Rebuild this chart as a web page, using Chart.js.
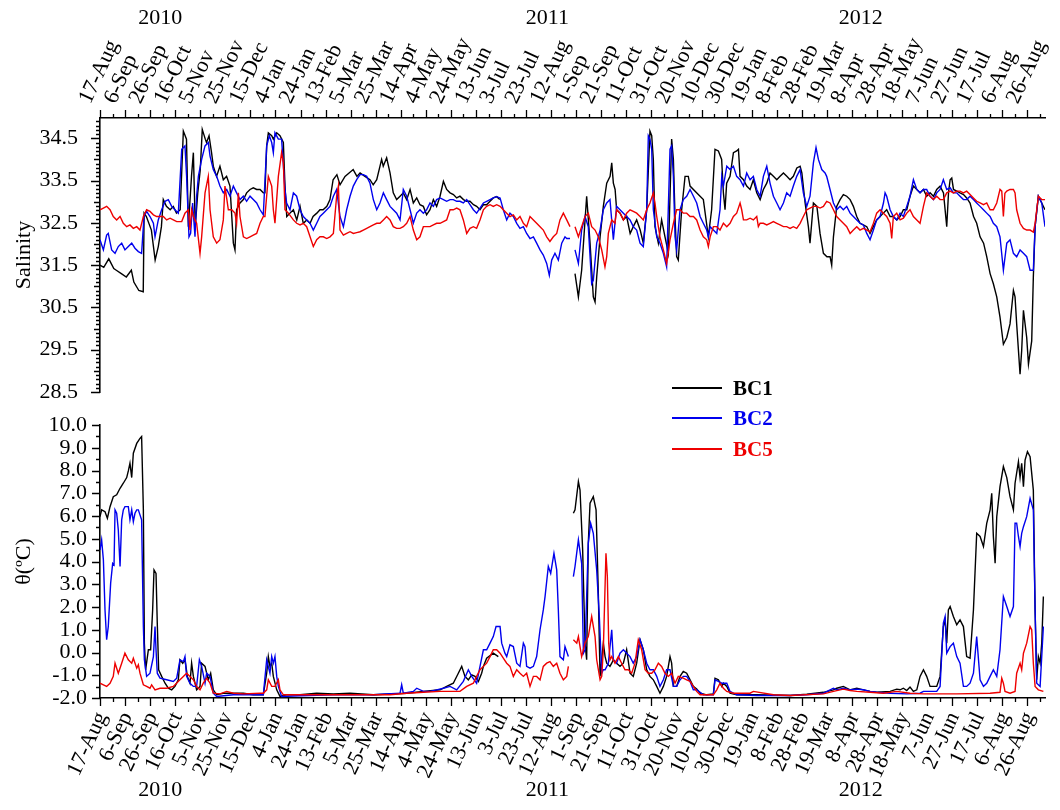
<!DOCTYPE html>
<html>
<head>
<meta charset="utf-8">
<script src="https://cdn.jsdelivr.net/npm/chart.js@4.4.1/dist/chart.umd.min.js"></script>
<style>
  body { margin: 0; background: #fff; }
  #wrap { position: relative; width: 1060px; height: 810px; font-family: "Liberation Serif", "Times New Roman", serif; }
  #salBox { position: absolute; left: 0; top: 0; width: 1060px; height: 400px; }
  #tempBox { position: absolute; left: 0; top: 400px; width: 1060px; height: 410px; }
  .key { position: absolute; left: 672px; width: 120px; height: 24px; }
  .key i { position: absolute; left: 0; top: 11px; width: 50px; height: 1.5px; }
  .key b { position: absolute; left: 61px; top: 0; font: bold 21px/24px "Liberation Serif", "Times New Roman", serif; }
</style>
</head>
<body>
<div id="wrap">
  <div id="salBox"><canvas id="salChart" width="1060" height="400"></canvas></div>
  <div id="tempBox"><canvas id="tempChart" width="1060" height="410"></canvas></div>
  <div class="key" style="top:376px"><i style="background:#000"></i><b style="color:#000">BC1</b></div>
  <div class="key" style="top:406px"><i style="background:#0000ee"></i><b style="color:#0000ee">BC2</b></div>
  <div class="key" style="top:437px"><i style="background:#ee0000"></i><b style="color:#ee0000">BC5</b></div>
</div>
<script>
// x values are days counted from 17-Aug-2010
const tickLabels = ['17-Aug','6-Sep','26-Sep','16-Oct','5-Nov','25-Nov','15-Dec','4-Jan','24-Jan','13-Feb',
  '5-Mar','25-Mar','14-Apr','4-May','24-May','13-Jun','3-Jul','23-Jul','12-Aug','1-Sep','21-Sep','11-Oct',
  '31-Oct','20-Nov','10-Dec','30-Dec','19-Jan','8-Feb','28-Feb','19-Mar','8-Apr','28-Apr','18-May','7-Jun',
  '27-Jun','17-Jul','6-Aug','26-Aug'];
const yearLabels = ['2010', '2011', '2012'];
const yearDays = [48, 357, 607];
const salTicks = [28.5, 29.5, 30.5, 31.5, 32.5, 33.5, 34.5];
const tempTicks = [-2, -1, 0, 1, 2, 3, 4, 5, 6, 7, 8, 9, 10];

const salBC1 = [[0,31.5],[3,31.45],[7,31.65],[11,31.42],[13,31.38],[17,31.3],[21,31.22],[25,31.38],[27,31.1],[31,30.9],[34.5,30.87],[35.2,32.73],[37,32.65],[41,32.33],[44,31.62],[46.5,31.94],[49,32.41],[50.5,33.05],[53,32.89],[56,32.81],[58.5,32.89],[61,32.73],[64,32.81],[66.5,34.67],[69,34.48],[70.5,32.41],[73,33.6],[74.5,34.16],[76,32.41],[78,33.21],[80,33.76],[81.6,34.71],[84,34.48],[85,34.4],[87,34.56],[89,34.16],[90.4,33.84],[93,33.6],[95.7,33.84],[98.4,33.52],[101,33.6],[103.7,33.37],[106.4,32.02],[107.7,31.86],[109,32.81],[111.7,32.97],[114.4,33.05],[117,33.21],[119.7,33.29],[122.3,33.33],[125,33.29],[127.7,33.29],[130.3,33.21],[131.6,33.21],[133,34.32],[134.3,34.63],[137,34.56],[138.3,34.48],[141,34.63],[143.6,34.56],[146.3,34.4],[147.6,33.37],[149,32.65],[151.6,32.73],[154.3,32.81],[157,32.57],[159.6,32.89],[162.2,32.49],[165,32.57],[167.6,32.49],[170,32.65],[173,32.73],[175.5,32.81],[178,32.81],[181,32.89],[183.5,33.05],[186,33.52],[189,33.64],[191.5,33.4],[195.5,33.6],[202,33.76],[205,33.6],[207.5,33.68],[211.4,33.6],[215.4,33.52],[218,33.4],[220.8,33.52],[224.7,34.0],[226,33.84],[228.7,34.04],[231.4,33.68],[234,33.21],[236.7,33.05],[239.4,33.13],[242,33.21],[244.7,33.05],[247.4,33.29],[250,32.97],[252.7,33.09],[255.3,32.93],[258,32.89],[260.6,32.69],[263.3,32.81],[266,33.05],[268.6,32.89],[271.3,33.13],[274,33.48],[276.6,33.29],[279.3,33.21],[282,33.17],[284.6,33.09],[287.2,33.13],[290,33.05],[292.6,33.01],[295.2,33.01],[298,32.93],[300.5,32.89],[303.2,32.81],[306,32.93],[308.5,32.93],[311.2,33.01],[313.8,33.09],[316.5,33.12],[319,33.05],[349,null],
  [379,31.3],[381.7,30.75],[384.3,31.38],[388.3,33.13],[391,32.02],[393.6,30.75],[395,30.63],[396.3,31.22],[399,32.17],[401.6,32.89],[404.3,33.44],[407,33.6],[408.3,33.92],[409.6,33.44],[411,33.29],[412.2,32.81],[415,32.73],[417.6,32.57],[420.2,32.65],[423,32.25],[425.5,32.41],[428.2,32.57],[431,32.33],[433.5,32.02],[436.2,32.81],[438.8,34.67],[440.2,34.56],[441.5,34.0],[442.8,32.41],[445.5,32.02],[448.1,32.57],[450.8,32.17],[453.5,31.78],[456.1,34.48],[457.5,34.0],[458.8,32.65],[460.1,31.7],[461.4,31.62],[464.1,32.81],[466.8,33.6],[469.4,33.6],
  [470.8,33.37],[476,33.21],[481.4,33.05],[485.4,32.17],[488,32.81],[490.7,34.24],[493.4,34.2],[496,34.0],[497.4,33.21],[498.7,32.81],[500,33.44],[502.7,33.6],[505.4,34.16],[508,34.2],[509.4,34.24],[510.7,33.6],[513.4,33.52],[516,33.37],[518.7,33.29],[521.3,33.52],[524,33.21],[526.7,33.05],[529.3,33.29],[532,33.44],[534.6,33.68],[537.3,33.6],[540,33.52],[542.6,33.6],[545.3,33.68],[548,33.6],[550.6,33.52],[553.2,33.6],[556,33.8],[558.6,33.84],[560,33.68],[562.6,32.97],[565.2,32.41],[566.5,32.02],[569.2,32.97],[572,32.89],[574.5,32.25],[577.2,31.78],[580,31.7],[582.5,31.7],[583.8,31.5],[585.2,32.17],[587.8,32.89],[590.5,33.05],[593.1,33.17],[595.8,33.13],[598.5,33.05],[601.1,32.89],[603.8,32.65],[606.4,32.49],[609,32.45],[611.8,32.41],[614.4,32.25],[617,32.41],[619.7,32.57],[622.4,32.65],[625,32.73],[627.7,32.81],[630.4,32.65],[633,32.65],[635.7,32.57],[638.4,32.65],[641,32.81],[643.7,32.81],[646.3,33.13],[649,33.37],[651.7,33.29],[654.3,33.21],[657,33.29],[659.6,33.13],[662.3,33.21],[665,33.13],[667.6,33.29],[670.3,33.37],[673,33.21],[675.6,32.41],[677,33.21],[678.3,33.52],[679.6,33.56],[681,33.29],[683.6,33.25],[686.2,33.21],[689,33.17],[691.5,33.09],[694.2,32.97],[697,32.65],[699.5,32.49],[702.2,32.17],[705,32.02],[707.5,31.7],[710.2,31.3],[712.8,31.06],[715.5,30.75],[718.1,30.27],[720.8,29.63],[723.5,29.79],[726.1,30.11],[728.8,30.9],[730.1,30.75],[731.4,30.11],[734.1,28.92],[735.4,29.48],[736.8,30.43],[739.4,29.79],[740.8,29.16],[743.4,29.71],[744.7,31.22],[746.1,32.41],[748.7,33.13],[751.4,32.97],[754,32.81]];

const salBC2 = [[0,32.1],[2.7,31.86],[5.3,32.21],[6.6,32.25],[9.3,31.86],[12,31.78],[14.6,31.94],[17.3,32.02],[19.9,31.86],[22.6,31.94],[25.3,32.02],[27.9,31.9],[30.6,31.82],[33.2,31.78],[35.1,32.65],[37.2,32.77],[39.9,32.65],[42.6,32.49],[43.9,32.17],[46.5,32.57],[49.2,32.81],[51.9,33.01],[54.5,33.05],[57.2,32.89],[59.8,32.81],[62.5,32.73],[65.2,34.24],[67.8,34.32],[69.1,33.6],[71,32.17],[72.3,32.25],[73.9,32.97],[75.8,32.17],[77.1,33.13],[78.5,33.6],[81.1,34.0],[83.8,34.32],[86.4,34.4],[87.8,34.08],[90.4,33.76],[93.1,33.6],[95.7,33.37],[98.4,33.21],[101.1,33.29],[103.7,33.13],[106.4,33.37],[109,33.21],[111.7,33.05],[114.4,33.13],[117,33.01],[119.7,33.13],[122.3,33.05],[125,32.97],[127.7,32.81],[130.3,32.69],[133,34.32],[135.1,34.56],[137,34.4],[138.3,34.16],[139.6,34.63],[142.3,34.48],[144.9,34.48],[147.6,33.29],[148.9,32.97],[151.6,32.81],[154.3,33.21],[156.9,33.13],[159.6,32.81],[162.2,32.65],[164.9,32.57],[167.6,32.49],[170.2,32.33],[172.9,32.49],[175.5,32.65],[178.2,32.73],[180.9,32.81],[183.5,32.89],[186.2,33.13],[188.8,33.29],[191.5,32.65],[194.2,32.41],[196.8,32.81],[199.5,33.13],[202.1,33.37],[204.8,33.52],[207.5,33.64],[210.1,33.64],[212.8,33.6],[215.4,33.44],[218.1,33.05],[220.8,32.81],[223.4,32.97],[226.1,33.21],[228.7,33.05],[231.4,32.89],[234,32.81],[236.7,32.73],[239.4,32.57],[242,33.29],[244.7,33.13],[247.4,32.81],[250,32.49],[252.7,32.73],[255.3,32.81],[258,32.73],[260.6,32.81],[263.3,32.97],[266,32.89],[268.6,33.05],[271.3,33.09],[274,33.05],[276.6,33.01],[279.3,33.05],[281.9,33.05],[284.6,33.01],[287.2,33.01],[289.9,32.97],[292.6,33.05],[295.2,32.93],[297.9,32.81],[300.5,32.73],[303.2,32.85],[305.9,32.97],[308.5,33.01],[311.2,33.05],[313.8,33.09],[316.5,33.12],[319.2,33.09],[321.8,32.81],[324.5,32.57],[327.1,32.73],[329.8,32.65],[332.5,32.49],[335.1,32.37],[337.8,32.41],[340.4,32.25],[343.1,32.13],[345.8,32.17],[348.4,32.02],[351.1,31.86],[353.7,31.74],[356.4,31.54],[358.5,31.26],[360.4,31.62],[363,31.78],[365.7,31.62],[368.4,32.02],[371,32.17],[372.4,32.13],[375,32.13],[377,null],
  [379,31.86],[381.7,31.54],[384.3,32.33],[387,32.65],[389.6,32.41],[392.3,31.06],[393.6,31.14],[396.3,32.02],[399,32.33],[401.6,32.81],[404.3,32.97],[406.9,33.05],[409.6,32.1],[412.2,32.89],[414.9,32.81],[417.6,32.73],[420.2,32.65],[422.9,32.57],[425.5,32.41],[428.2,32.33],[430.9,32.02],[433.5,31.94],[436.2,32.81],[437.5,34.56],[438.8,34.48],[440.2,34.24],[441.5,32.81],[444.2,32.17],[446.8,32.02],[449.5,31.78],[452.1,31.46],[454.8,34.24],[456.1,34.32],[457.5,33.6],[458.8,32.17],[460.1,31.86],[462.8,32.81],[465.4,33.05],[468.1,33.13],[470.8,33.29],
  [473.5,33.13],[476.1,32.97],[478.8,32.65],[481.4,32.49],[484.1,32.33],[485.4,32.17],[486.8,32.41],[489.4,32.33],[492.1,32.25],[494.7,32.81],[496.1,33.6],[497.4,33.37],[500.1,33.84],[502.7,33.76],[505.4,33.84],[508,33.6],[510.7,33.52],[513.4,33.37],[516,33.68],[518.7,33.52],[521.3,33.6],[524,33.29],[526.7,33.13],[529.3,33.6],[532,33.84],[534.6,33.44],[537.3,33.13],[540,32.97],[542.6,32.81],[545.3,32.97],[547.9,33.21],[550.6,33.13],[553.2,33.37],[555.9,33.6],[558.6,33.76],[561.2,33.21],[563.9,32.89],[566.5,33.13],[569.2,33.92],[571.3,34.28],[573.2,34.0],[575.9,33.76],[578.5,33.68],[579.8,33.6],[582.5,33.29],[585.2,32.97],[587.8,32.81],[590.5,32.89],[593.1,32.81],[595.8,32.89],[598.5,32.73],[601.1,32.65],[603.8,32.57],[606.4,32.49],[609.1,32.45],[611.8,32.25],[614.4,32.1],[617.1,32.33],[619.7,32.57],[622.4,32.65],[625.1,32.97],[626.4,33.21],[627.7,33.13],[630.4,32.81],[633,32.65],[635.7,32.57],[638.4,32.73],[641,32.65],[643.7,32.89],[646.3,33.13],[649,33.52],[651.7,33.29],[654.3,33.21],[657,33.29],[659.6,33.29],[662.3,33.13],[665,33.05],[667.6,33.21],[670.3,33.29],[672.9,33.52],[675.6,33.29],[678.3,33.33],[680.9,33.21],[683.6,33.21],[686.2,33.13],[688.9,33.05],[691.5,33.05],[694.2,33.13],[696.9,33.05],[699.5,32.97],[702.2,32.89],[704.9,32.81],[707.5,32.73],[710.2,32.65],[712.8,32.49],[715.5,32.41],[718.1,32.17],[720.8,31.38],[723.5,32.02],[726.1,32.1],[728.8,31.78],[731.4,31.7],[734.1,31.86],[736.8,31.78],[739.4,31.7],[742.1,31.38],[744.7,31.38],[746.1,32.41],[748.7,33.13],[751.4,32.97],[754,32.41]];

const salBC5 = [[0,32.81],[2.7,32.85],[5.3,32.89],[8,32.81],[10.6,32.65],[13.3,32.57],[16,32.65],[18.6,32.49],[21.3,32.41],[23.9,32.45],[26.6,32.37],[29.3,32.41],[31.9,32.33],[34.6,32.65],[37.2,32.81],[39.9,32.77],[42.6,32.69],[45.2,32.65],[47.9,32.65],[50.5,32.65],[53.2,32.57],[55.9,32.61],[58.5,32.57],[61.2,32.53],[65.2,32.53],[67.8,32.73],[70.5,32.81],[71.8,32.33],[73.1,32.81],[74.5,32.65],[77.1,32.49],[79.8,31.78],[81.1,32.17],[83.8,33.21],[86.4,33.6],[87.8,32.81],[90.4,32.17],[93.1,32.02],[95.7,32.1],[98.4,32.57],[99.7,33.37],[102.4,32.81],[105.1,32.81],[107.7,32.73],[109,32.49],[110.4,33.21],[111.7,32.65],[114.4,32.17],[117,32.13],[119.7,32.17],[122.3,32.21],[125,32.25],[127.7,32.49],[130.3,32.65],[131.6,32.65],[134.3,33.6],[137,33.37],[138.3,32.81],[139.6,32.49],[142.3,33.6],[144.9,34.16],[146.3,33.92],[147.6,32.81],[150.3,32.73],[154.3,32.57],[156.9,32.49],[159.6,32.45],[162.2,32.49],[164.9,32.41],[167.6,32.17],[170.2,31.94],[172.9,32.1],[175.5,32.17],[178.2,32.17],[180.9,32.13],[183.5,32.17],[186.2,32.25],[188.8,33.13],[190.2,33.37],[191.5,32.33],[194.2,32.21],[196.8,32.25],[199.5,32.29],[202.1,32.25],[204.8,32.27],[207.5,32.29],[210.1,32.33],[212.8,32.37],[215.4,32.41],[218.1,32.45],[220.8,32.49],[223.4,32.49],[226.1,32.57],[228.7,32.65],[231.4,32.57],[234,32.41],[236.7,32.37],[239.4,32.37],[242,32.41],[244.7,32.49],[247.4,32.65],[250,32.33],[252.7,32.1],[255.3,32.17],[258,32.41],[260.6,32.41],[263.3,32.41],[266,32.45],[268.6,32.49],[271.3,32.49],[274,32.53],[276.6,32.57],[279.3,32.81],[281.9,32.81],[284.6,32.85],[287.2,32.81],[289.9,32.57],[292.6,32.25],[295.2,32.37],[297.9,32.41],[300.5,32.37],[303.2,32.57],[305.9,32.81],[308.5,32.89],[311.2,32.93],[313.8,32.89],[316.5,32.93],[319.2,32.89],[321.8,32.81],[324.5,32.73],[327.1,32.65],[329.8,32.69],[332.5,32.57],[335.1,32.65],[337.8,32.49],[340.4,32.41],[343.1,32.65],[345.8,32.57],[348.4,32.49],[351.1,32.41],[353.7,32.33],[356.4,32.17],[359,32.06],[361.7,32.17],[364.4,32.25],[367,32.57],[369.7,32.73],[372.4,32.57],[375,32.41],[377,null],
  [379,32.41],[381.7,32.17],[384.3,32.41],[387,32.65],[389.6,32.73],[392.3,32.41],[395,32.33],[397.6,32.17],[400.3,31.86],[402.9,31.46],[404.3,31.7],[405.6,32.25],[408.3,32.57],[410.9,32.49],[412.2,32.81],[414.9,32.73],[417.6,32.57],[420.2,32.73],[422.9,32.81],[425.5,32.77],[428.2,32.73],[430.9,32.65],[433.5,32.57],[436.2,32.81],[438.8,32.97],[441.5,33.21],[442.8,32.97],[444.2,32.65],[446.8,32.17],[449.5,31.86],[452.1,31.54],[454.8,32.1],[457.5,32.49],[460.1,32.81],[462.8,32.81],[465.4,32.73],[468.1,32.73],[470.8,32.65],[473.5,32.65],[476.1,32.57],[478.8,32.33],[481.4,32.17],[484.1,32.1],[485.4,31.94],[486.8,32.17],[489.4,32.41],[492.1,32.41],[494.7,32.33],[497.4,32.49],[500.1,32.41],[502.7,32.49],[505.4,32.65],[508,32.73],[510.7,32.97],[512,32.81],[513.4,32.57],[516,32.57],[518.7,32.61],[521.3,32.57],[524,32.65],[525.3,32.41],[526.7,32.49],[529.3,32.49],[532,32.45],[534.6,32.49],[537.3,32.53],[540,32.49],[542.6,32.45],[545.3,32.41],[547.9,32.41],[550.6,32.37],[553.2,32.41],[555.9,32.37],[558.6,32.49],[561.2,32.65],[563.9,32.81],[566.5,32.85],[569.2,32.89],[571.9,32.89],[574.5,32.85],[577.2,32.89],[579.8,33.01],[582.5,32.97],[585.2,32.81],[587.8,32.65],[590.5,32.57],[593.1,32.49],[595.8,32.41],[598.5,32.25],[601.1,32.33],[603.8,32.41],[606.4,32.33],[609.1,32.37],[611.8,32.33],[614.4,32.29],[617.1,32.49],[619.7,32.73],[622.4,32.81],[625.1,32.73],[627.7,32.65],[630.4,32.49],[631.7,32.13],[633,32.65],[635.7,32.73],[638.4,32.57],[641,32.61],[643.7,32.73],[646.3,32.81],[649,32.65],[651.7,32.57],[654.3,32.49],[657,32.89],[659.6,33.21],[662.3,33.13],[665,33.05],[667.6,33.13],[670.3,33.05],[672.9,33.05],[675.6,33.21],[678.3,33.25],[680.9,33.21],[683.6,33.25],[686.2,33.25],[688.9,33.21],[691.5,33.25],[694.2,33.17],[696.9,33.09],[699.5,33.01],[702.2,32.97],[704.9,32.93],[707.5,32.97],[710.2,32.81],[712.8,32.81],[715.5,32.97],[718.1,33.29],[719.5,33.25],[720.8,32.65],[722,33.2],[723.5,33.25],[726.1,33.29],[728.8,33.29],[730.1,33.21],[731.4,32.81],[734.1,32.49],[736.8,32.37],[739.4,32.33],[742.1,32.33],[744.7,32.28],[746.1,32.49],[748.7,33.13],[751.4,33.05],[754,33.05]];

const tempBC1 = [[0,5.97],[1.3,6.27],[4,6.19],[5.9,5.9],[8,6.41],[10.6,6.85],[13.3,6.93],[16,7.22],[18.6,7.44],[21.3,7.69],[22.6,7.98],[23.9,8.32],[25.3,7.69],[26.6,8.76],[29.3,9.19],[31.9,9.41],[33.2,9.49],[34.6,6.27],[35.4,0.41],[36.4,-0.76],[38.6,0.12],[40.4,0.12],[42,1.87],[43.1,3.63],[44.7,3.48],[45.7,1.29],[46.8,-0.76],[49.2,-1.05],[51.9,-1.35],[54.5,-1.57],[57.2,-1.64],[59.8,-1.49],[62.5,-1.2],[63.8,-0.32],[66,-0.47],[67.8,-0.32],[69.7,-1.05],[71.8,-1.35],[73.1,-0.47],[74.5,-1.05],[77.1,-1.64],[79.8,-1.49],[81.1,-0.47],[83.8,-0.61],[86.4,-1.2],[88.3,-0.91],[90.4,-1.64],[93.1,-1.86],[98.4,-1.79],[106.4,-1.79],[114.4,-1.79],[122.3,-1.86],[130.3,-1.86],[133,-0.91],[134.3,-0.18],[135.6,-0.61],[137,-0.47],[138.3,-1.05],[141,-1.64],[143.6,-1.93],[148.9,-1.86],[159.6,-1.86],[172.9,-1.79],[186.2,-1.82],[199.5,-1.79],[218.1,-1.86],[244.7,-1.79],[271.3,-1.64],[276.6,-1.49],[281.9,-1.35],[285.9,-0.91],[288.6,-0.61],[291.2,-1.05],[293.9,-1.2],[296.6,-0.98],[299.2,-1.05],[301.9,-1.27],[304.5,-0.91],[305.9,-0.61],[308.5,-0.25],[313.8,-0.03],[317.8,-0.18],[348,null],
  [377.7,6.12],[379,6.27],[381.7,7.51],[383,7.14],[385.1,4.51],[387,0.41],[388.3,-0.32],[389.6,4.8],[391,6.56],[393.6,6.85],[395.8,6.27],[397.6,2.61],[399,-1.05],[401.6,0.41],[403,-0.18],[404.3,-0.47],[406.9,-0.61],[408.3,-0.47],[409.6,-0.32],[412.2,-0.47],[414.9,-0.61],[417.6,-0.47],[420.2,0.12],[422.9,-0.91],[425.5,-1.05],[428.2,-0.47],[430.9,0.56],[433.5,0.12],[436.2,-0.76],[438.8,-1.05],[441.5,-1.2],[444.2,-1.49],[446.8,-1.79],[449.5,-1.49],[452.1,-1.05],[454.8,-0.18],[456.1,-0.47],[457.5,-1.49],[460.1,-1.49],[462.8,-1.05],[465.4,-0.83],[468.1,-0.91],[470.8,-1.2],[473.4,-1.49],[476.1,-1.6],[478.8,-1.79],[484.1,-1.86],[489.4,-1.82],[490.7,-1.13],[493.4,-1.2],[496.1,-1.49],[497.4,-1.35],[500.1,-1.49],[502.7,-1.79],[508,-1.86],[524,-1.86],[550.6,-1.89],[563.9,-1.83],[577.2,-1.75],[585.2,-1.64],[587.8,-1.57],[593.1,-1.49],[598.5,-1.64],[603.8,-1.57],[609.1,-1.64],[614.4,-1.71],[619.7,-1.75],[630.4,-1.71],[635.7,-1.61],[638.4,-1.64],[641,-1.57],[643.7,-1.67],[646.3,-1.52],[649,-1.71],[651.7,-1.64],[654.3,-1.05],[657,-0.76],[659.6,-1.05],[662.3,-1.49],[667.6,-1.49],[670.3,-1.05],[672.9,1.14],[674.3,1.43],[675.6,0.41],[676.9,1.87],[678.3,2.02],[680.9,1.58],[683.6,1.22],[686.2,1.43],[688.9,1.14],[691.5,-0.18],[694.2,-0.25],[696.9,1.87],[699.5,5.24],[702.2,5.1],[704.9,4.66],[707.5,5.68],[710.2,6.27],[711.5,7.0],[712.8,5.1],[714.2,3.92],[715.5,5.97],[718.1,7.29],[720.8,8.17],[723.5,7.69],[726.1,6.85],[728.8,6.27],[730.1,7.44],[732.8,8.39],[734.1,7.69],[735.4,8.32],[736.8,7.29],[738.1,8.46],[740,8.83],[742.1,8.61],[744.7,7.14],[746.1,1.87],[747.4,-1.2],[748.7,-0.18],[750.1,-0.47],[751.4,0.41],[752.7,2.46]];

const tempBC2 = [[0,4.51],[1.3,4.95],[2.7,4.07],[4,1.87],[5.3,0.56],[6.6,1.14],[8.5,3.05],[10.1,3.92],[11.2,3.85],[12,6.27],[13.3,6.12],[14.6,5.39],[16,3.78],[17.3,5.83],[18.6,6.27],[19.9,6.41],[22.6,6.41],[23.9,5.83],[25.3,6.27],[26.6,5.75],[27.9,6.12],[29.3,6.27],[30.6,6.27],[31.9,6.05],[33.2,5.83],[34.6,1.14],[35.4,-0.32],[37.2,-1.05],[39.9,-0.91],[42.6,-0.18],[43.9,1.14],[44.7,0.12],[45.7,-0.91],[47.9,-1.13],[53.2,-1.2],[58.5,-1.27],[61.2,-1.13],[63.8,-0.32],[66.5,-0.4],[67.8,-0.18],[69.1,-1.05],[71.8,-1.35],[74.5,-1.49],[77.1,-1.49],[79.3,-0.32],[81.1,-0.61],[83.8,-1.35],[85.1,-0.91],[87.8,-1.05],[90.4,-1.79],[93.1,-1.93],[106.4,-1.86],[119.7,-1.86],[130.3,-1.86],[133,-0.32],[135.6,-0.91],[137,-0.18],[138.3,-0.47],[139.6,-0.18],[141,-1.05],[142.3,-1.49],[144.9,-1.93],[159.6,-1.9],[186.2,-1.86],[218.1,-1.86],[239.4,-1.79],[240.7,-1.42],[242,-1.79],[250,-1.71],[252.7,-1.57],[258,-1.71],[263.3,-1.71],[268.6,-1.64],[274,-1.57],[279.3,-1.49],[284.6,-1.64],[289.9,-1.27],[293.9,-0.76],[296.6,-1.05],[300.5,-1.35],[303.2,-0.61],[305.9,0.12],[308.5,0.12],[311.2,0.41],[313.8,0.7],[316,1.14],[317.8,1.14],[319.2,1.14],[320.5,0.41],[323.1,-0.03],[324.5,-0.18],[327.1,0.34],[329.8,0.26],[332.5,-0.47],[335.1,-0.61],[337.8,0.41],[339.1,0.26],[340.4,-0.61],[343.1,-0.69],[345.8,-0.61],[348.4,-0.18],[351.1,1.0],[353.7,1.87],[355.1,2.46],[357.7,3.78],[359.6,3.48],[362.2,4.36],[364.4,3.63],[365.7,1.87],[367,-0.18],[369.7,-0.32],[371,0.26],[373.7,-0.18],[376,null],
  [377.7,3.34],[379,3.78],[381.7,4.95],[384.3,3.92],[385.7,-0.03],[387,0.12],[389.6,4.8],[391.5,5.68],[393.6,5.24],[396.3,3.63],[398.4,1.58],[400.3,-0.91],[401.6,-0.76],[403,-0.76],[405.6,-0.47],[408.3,1.0],[409.6,-0.32],[412.2,-0.47],[414.9,-0.03],[417.6,0.12],[420.2,-0.03],[422.9,-0.18],[425.5,-0.47],[428.2,-0.18],[430.9,0.56],[433.5,0.12],[436.2,-0.47],[438.8,-0.76],[441.5,-0.76],[444.2,-1.05],[446.8,-1.49],[449.5,-1.2],[452.1,-0.76],[454.8,-0.76],[457.5,-1.49],[460.1,-1.49],[462.8,-1.2],[465.4,-1.05],[468.1,-1.05],[470.8,-1.27],[473.4,-1.64],[476.1,-1.64],[481.4,-1.86],[489.4,-1.86],[490.7,-1.2],[493.4,-1.27],[496.1,-1.35],[500.1,-1.35],[502.7,-1.71],[508,-1.86],[524,-1.89],[550.6,-1.89],[563.9,-1.86],[577.2,-1.79],[585.2,-1.57],[587.8,-1.64],[593.1,-1.57],[598.5,-1.64],[603.8,-1.61],[609.1,-1.64],[614.4,-1.71],[619.7,-1.75],[630.4,-1.79],[643.7,-1.82],[654.3,-1.79],[657,-1.71],[667.6,-1.71],[670.3,-1.49],[672.9,1.29],[674.3,1.58],[675.6,-0.03],[678.3,0.26],[680.9,0.41],[683.6,-0.18],[686.2,-0.47],[688.9,-1.49],[691.5,-1.49],[694.2,-1.35],[696.9,-0.91],[699.5,0.7],[702.2,-1.2],[704.9,-1.49],[707.5,-1.35],[710.2,-1.05],[712.8,-0.76],[715.5,-1.05],[718.1,0.12],[720.8,2.46],[723.5,2.02],[726.1,1.58],[728.8,2.02],[730.1,5.68],[731.4,5.68],[732.8,5.1],[734.1,4.66],[735.4,5.24],[736.8,5.53],[739.4,5.97],[742.1,6.78],[744.7,6.27],[746.1,1.87],[747.4,-1.35],[750.1,-1.49],[752.7,1.14]];

const tempBC5 = [[0,-1.35],[2.7,-1.42],[5.3,-1.49],[8,-1.35],[10.6,-1.05],[12,-0.47],[14.6,-0.91],[17.3,-0.47],[19.9,-0.03],[22.6,-0.32],[25.3,-0.47],[26.6,-0.25],[29.3,-0.69],[30.6,-0.54],[31.9,-0.91],[34.6,-1.42],[37.2,-1.49],[39.9,-1.57],[41.2,-1.42],[43.9,-1.64],[47.9,-1.57],[53.2,-1.57],[58.5,-1.49],[63.8,-1.2],[66.5,-1.05],[69.1,-0.91],[71.8,-1.05],[74.5,-1.2],[77.1,-1.49],[79.8,-1.64],[82.4,-1.35],[85.1,-1.13],[87.8,-1.35],[90.4,-1.79],[95.7,-1.82],[101.1,-1.71],[106.4,-1.79],[114.4,-1.82],[127.7,-1.79],[130.3,-1.79],[133,-1.64],[134.3,-1.2],[137,-1.49],[139.6,-1.49],[142.3,-1.2],[143.6,-1.64],[146.3,-1.86],[159.6,-1.86],[186.2,-1.86],[231.4,-1.86],[244.7,-1.79],[258,-1.75],[271.3,-1.71],[287.2,-1.71],[292.6,-1.49],[297.9,-1.35],[300.5,-1.05],[303.2,-0.76],[305.9,-0.61],[308.5,-0.47],[311.2,-0.18],[313.8,0.12],[316.5,0.12],[319.2,-0.03],[321.8,-0.25],[324.5,-0.47],[327.1,-0.61],[329.8,-1.05],[332.5,-0.76],[335.1,-0.91],[337.8,-1.05],[340.4,-0.91],[343.1,-1.49],[345.8,-1.05],[348.4,-1.05],[351.1,-1.2],[353.7,-0.61],[356.4,-0.47],[359,-0.4],[361.7,-0.61],[364.4,-0.47],[367,-0.91],[369.7,-1.2],[372.4,-1.05],[373.7,-0.61],[376,null],
  [377.7,0.56],[380.4,0.41],[381.7,0.7],[383,0.26],[384.3,-0.18],[387,0.41],[389.6,0.7],[392.3,1.58],[395,0.7],[396.3,-0.32],[399,-1.2],[400.3,-1.05],[401.6,0.12],[403.7,4.36],[404.8,3.34],[405.9,0.41],[406.9,-0.32],[408.3,-0.18],[410.9,-0.47],[413.6,-0.18],[416.2,-0.47],[418.9,-0.76],[421.6,-0.76],[424.2,-0.91],[426.9,-0.47],[429.5,0.56],[432.2,0.12],[434.9,-0.76],[437.5,-0.91],[440.2,-0.91],[442.8,-0.76],[445.5,-0.47],[448.1,-0.61],[450.8,-0.91],[453.5,-1.05],[456.1,-0.91],[458.8,-1.35],[461.4,-1.05],[465.4,-1.13],[468.1,-1.2],[470.8,-1.27],[473.4,-1.49],[476.1,-1.71],[478.8,-1.86],[489.4,-1.86],[492.1,-1.64],[494.7,-1.35],[497.4,-1.57],[500.1,-1.71],[505.4,-1.79],[518.7,-1.79],[521.3,-1.71],[537.3,-1.86],[550.6,-1.89],[577.2,-1.82],[585.2,-1.71],[593.1,-1.61],[598.5,-1.67],[603.8,-1.71],[614.4,-1.75],[625.1,-1.79],[635.7,-1.71],[646.3,-1.79],[657,-1.82],[683.6,-1.82],[710.2,-1.79],[718.1,-1.75],[719.5,-1.13],[720.8,-1.35],[722.1,-1.71],[726.1,-1.79],[730.1,-1.71],[731.4,-0.91],[734.1,-0.47],[735.4,-0.76],[736.8,-0.03],[739.4,0.41],[742.1,1.14],[743.4,1.0],[744.7,-0.47],[746.1,-1.49],[748.7,-1.64],[752.7,-1.71]];

const SERIF = '"Liberation Serif", "Times New Roman", serif';
Chart.defaults.font.family = SERIF;
Chart.defaults.color = '#000';

const toXY = pairs => pairs.map(([x, y]) => ({ x, y }));

function lineSet(label, pairs, color, order) {
  return {
    label, data: toXY(pairs), borderColor: color, borderWidth: 1.4,
    pointRadius: 0, tension: 0, fill: false, spanGaps: false, order
  };
}

// tick marks every 10 days on the date axis, longer at the labelled ones,
// plus the y axis minor ticks and the year captions
const axisMarks = {
  id: 'axisMarks',
  afterDraw(chart, args, opts) {
    const { ctx, chartArea: a, scales: { x, y } } = chart;
    ctx.save();
    ctx.strokeStyle = '#000';
    ctx.lineWidth = 1.3;
    ctx.beginPath();
    const up = opts.side === 'top';
    const edge = up ? a.top : a.bottom;
    for (let d = 0; d <= 750; d += 10) {
      const px = Math.round(x.getPixelForValue(d)) + 0.5;
      const len = d % 20 === 0 ? 8 : 4;
      ctx.moveTo(px, edge);
      ctx.lineTo(px, up ? edge - len : edge + len);
    }
    opts.yMarks.forEach(([v, len]) => {
      const py = Math.round(y.getPixelForValue(v)) + 0.5;
      ctx.moveTo(a.left, py);
      ctx.lineTo(a.left - len, py);
    });
    ctx.stroke();
    ctx.fillStyle = '#000';
    ctx.font = '22px ' + SERIF;
    ctx.textAlign = 'center';
    ctx.textBaseline = 'middle';
    yearLabels.forEach((t, i) => ctx.fillText(t, x.getPixelForValue(yearDays[i]), opts.yearY));
    ctx.restore();
  }
};

function dateAxis(position, height, shift) {
  return {
    type: 'linear', position, min: 0, max: 754,
    grid: { display: false, drawTicks: true, tickLength: 8 },
    border: { display: true, color: '#000', width: 1.6 },
    ticks: {
      autoSkip: false, minRotation: 65, maxRotation: 65, padding: 2, labelOffset: shift,
      font: { size: 22 }, color: '#000',
      callback: v => tickLabels[Math.round(v / 20)]
    },
    afterBuildTicks: s => { s.ticks = tickLabels.map((_, i) => ({ value: i * 20 })); },
    afterFit: s => { s.height = height; s.paddingLeft = 0; s.paddingRight = 0; }
  };
}

function valueAxis(min, max, ticks, title, pad) {
  return {
    type: 'linear', position: 'left', min, max,
    grid: { display: false, drawTicks: true, tickLength: 8 },
    border: { display: true, color: '#000', width: 1.6 },
    title: { display: true, text: title, font: { size: 22 }, color: '#000', padding: { top: 11, bottom: 0 } },
    ticks: { autoSkip: false, padding: pad, font: { size: 22 }, color: '#000', callback: v => v.toFixed(1) },
    afterBuildTicks: s => { s.ticks = ticks.map(v => ({ value: v })); },
    afterFit: s => { s.width = 100; s.paddingTop = 0; s.paddingBottom = 0; }
  };
}

const salMarks = [];
for (let k = 285; k <= 349; k++) salMarks.push([k / 10, k % 10 === 5 ? 9 : (k % 10 === 0 ? 6 : 4)]);
const tempMarks = [];
for (let k = -20; k <= 100; k += 5) tempMarks.push([k / 10, k % 10 === 0 ? 8 : 4]);

const common = {
  responsive: false, animation: false, devicePixelRatio: 1,
  plugins: { legend: { display: false }, tooltip: { enabled: false } }
};

new Chart(document.getElementById('salChart'), {
  type: 'line',
  data: { datasets: [
    lineSet('BC1', salBC1, '#000000', 3),
    lineSet('BC2', salBC2, '#0000ee', 2),
    lineSet('BC5', salBC5, '#ee0000', 1)
  ] },
  options: {
    ...common,
    layout: { padding: { left: 0, right: 15, top: 0, bottom: 8 } },
    scales: { x: dateAxis('top', 118, 9), y: valueAxis(28.5, 34.98, salTicks, 'Salinity', 14) },
    plugins: { ...common.plugins, axisMarks: { side: 'top', yMarks: salMarks, yearY: 18 } }
  },
  plugins: [axisMarks]
});

new Chart(document.getElementById('tempChart'), {
  type: 'line',
  data: { datasets: [
    lineSet('BC1', tempBC1, '#000000', 3),
    lineSet('BC2', tempBC2, '#0000ee', 2),
    lineSet('BC5', tempBC5, '#ee0000', 1)
  ] },
  options: {
    ...common,
    layout: { padding: { left: 0, right: 15, top: 25, bottom: 0 } },
    scales: { x: dateAxis('bottom', 112, 2), y: valueAxis(-2, 10, tempTicks, 'θ(ºC)', 5) },
    plugins: { ...common.plugins, axisMarks: { side: 'bottom', yMarks: tempMarks, yearY: 390 } }
  },
  plugins: [axisMarks]
});
</script>
</body>
</html>
